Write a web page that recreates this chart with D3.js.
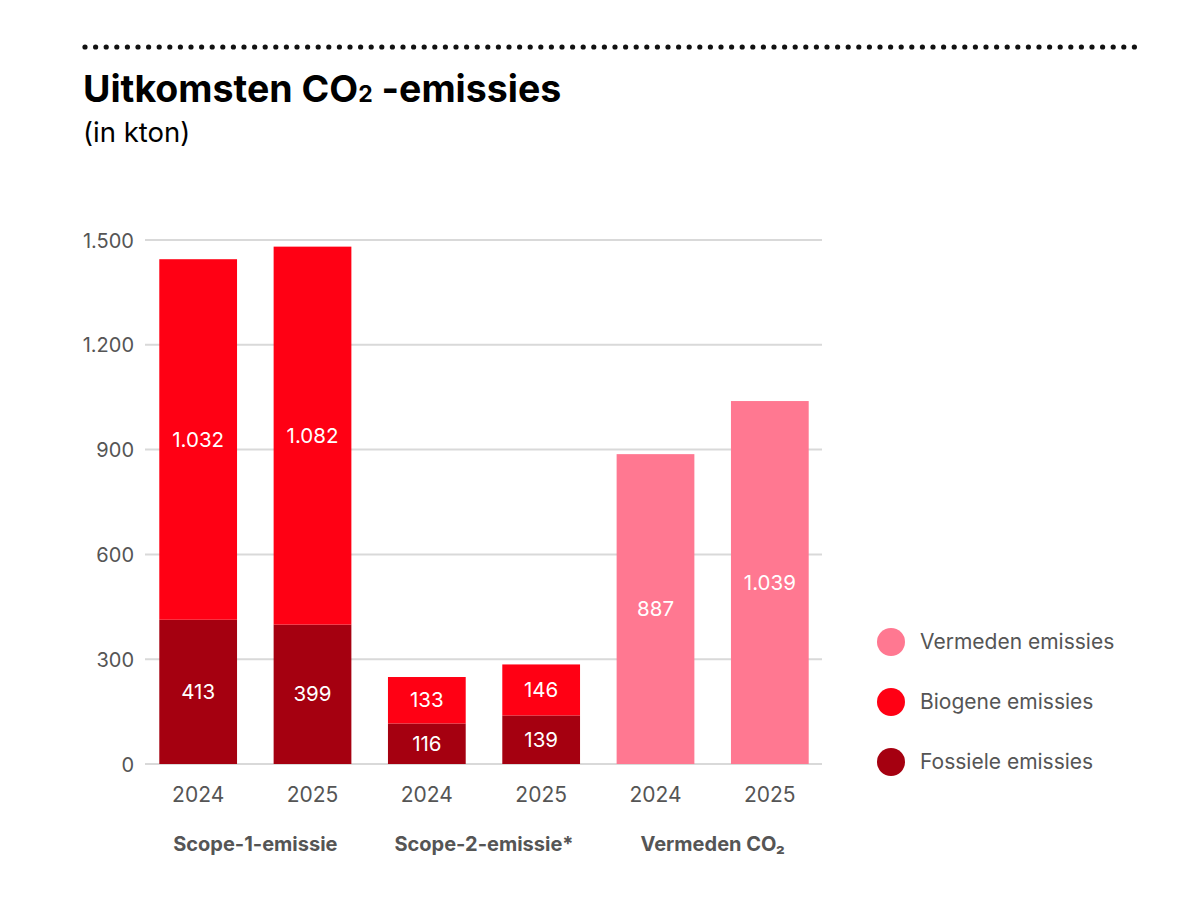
<!DOCTYPE html>
<html>
<head>
<meta charset="utf-8">
<script src="https://cdn.jsdelivr.net/npm/d3@7"></script>
<style>
  body { margin: 0; background: #fff; }
  text { font-family: Inter, "Noto Sans", sans-serif; }
</style>
</head>
<body>
<div id="chart"></div>
<script>
// data
var years = ["2024", "2025", "2024", "2025", "2024", "2025"];
var groups = ["Scope-1-emissie", "Scope-2-emissie*", "Vermeden CO₂"];
var fossiel = [413, 399, 116, 139, 0, 0];
var biogeen = [1032, 1082, 133, 146, 0, 0];
var vermeden = [0, 0, 0, 0, 887, 1039];
var yTicks = [0, 300, 600, 900, 1200, 1500];
var legendLabels = ["Vermeden emissies", "Biogene emissies", "Fossiele emissies"];
var colors = ["#FF7891", "#FF0014", "#A50010"];

var w = 1200, h = 900;

var svg = d3.select("#chart").append("svg")
  .attr("width", w)
  .attr("height", h);

// dotted rule on top
var dots = d3.range(85, 1140, 10.6);
svg.selectAll("circle.dot")
  .data(dots)
  .enter()
  .append("circle")
  .attr("class", "dot")
  .attr("cx", function(d) { return d; })
  .attr("cy", 47)
  .attr("r", 2.6)
  .attr("fill", "#111");

// title
var title = svg.append("text")
  .attr("x", 83)
  .attr("y", 102)
  .attr("font-size", "37.5px")
  .attr("font-weight", 700)
  .attr("fill", "#000");
title.append("tspan").text("Uitkomsten CO");
title.append("tspan").attr("font-size", "23px").text("2");
title.append("tspan").text(" -emissies");

svg.append("text")
  .attr("x", 83)
  .attr("y", 142)
  .attr("font-size", "27.5px")
  .attr("fill", "#000")
  .text("(in kton)");

// scales
var x = d3.scaleBand()
  .domain(d3.range(years.length))
  .range([141, 827])
  .paddingInner(0.32)
  .paddingOuter(0.16);

var y = d3.scaleLinear()
  .domain([0, 1500])
  .range([764, 240]);

// gridlines
svg.selectAll("line.grid")
  .data(yTicks)
  .enter()
  .append("line")
  .attr("x1", 145)
  .attr("x2", 822)
  .attr("y1", function(d) { return y(d); })
  .attr("y2", function(d) { return y(d); })
  .attr("stroke", "#d9d9d9")
  .attr("stroke-width", 2);

// y axis labels
var yAxis = d3.axisLeft(y)
  .tickValues(yTicks)
  .tickSize(0)
  .tickPadding(0)
  .tickFormat(function(d) { return d3.format(",")(d).replace(/,/g, "."); });

svg.append("g")
  .attr("transform", "translate(134,0)")
  .call(yAxis)
  .call(function(g) { g.select(".domain").remove(); })
  .selectAll("text")
  .attr("font-size", "20px")
  .attr("fill", "#555")
  .attr("dy", "0.35em");

// stacked segments
var segs = [];
years.forEach(function(yr, i) {
  var base = 0;
  [[fossiel[i], colors[2]], [biogeen[i], colors[1]], [vermeden[i], colors[0]]].forEach(function(s) {
    if (s[0] > 0) {
      segs.push({ i: i, y0: base, y1: base + s[0], v: s[0], c: s[1] });
      base += s[0];
    }
  });
});

svg.selectAll("rect.seg")
  .data(segs)
  .enter()
  .append("rect")
  .attr("class", "seg")
  .attr("x", function(d) { return x(d.i); })
  .attr("width", x.bandwidth())
  .attr("y", function(d) { return y(d.y1); })
  .attr("height", function(d) { return y(d.y0) - y(d.y1); })
  .attr("fill", function(d) { return d.c; });

// value labels
var fmt = function(v) { return d3.format(",")(v).replace(/,/g, "."); };
svg.selectAll("text.val")
  .data(segs)
  .enter()
  .append("text")
  .attr("class", "val")
  .attr("x", function(d) { return x(d.i) + x.bandwidth() / 2; })
  .attr("y", function(d) { return (y(d.y0) + y(d.y1)) / 2; })
  .attr("dy", "0.35em")
  .attr("text-anchor", "middle")
  .attr("font-size", "20.5px")
  .attr("fill", "#fff")
  .text(function(d) { return fmt(d.v); });

// year labels
svg.selectAll("text.year")
  .data(years)
  .enter()
  .append("text")
  .attr("class", "year")
  .attr("x", function(d, i) { return x(i) + x.bandwidth() / 2; })
  .attr("y", 802)
  .attr("text-anchor", "middle")
  .attr("font-size", "21px")
  .attr("fill", "#555")
  .text(function(d) { return d; });

// group labels
svg.selectAll("text.group")
  .data(groups)
  .enter()
  .append("text")
  .attr("class", "group")
  .attr("x", function(d, i) { return (x(i * 2) + x(i * 2 + 1) + x.bandwidth()) / 2; })
  .attr("y", 851)
  .attr("text-anchor", "middle")
  .attr("font-size", "20px")
  .attr("font-weight", 700)
  .attr("fill", "#555")
  .text(function(d) { return d; });

// legend
var legend = svg.selectAll("g.legend")
  .data(legendLabels)
  .enter()
  .append("g")
  .attr("class", "legend")
  .attr("transform", function(d, i) { return "translate(891," + (642 + i * 60) + ")"; });

legend.append("circle")
  .attr("r", 14)
  .attr("fill", function(d, i) { return colors[i]; });

legend.append("text")
  .attr("x", 29)
  .attr("dy", "0.35em")
  .attr("font-size", "21px")
  .attr("fill", "#555")
  .text(function(d) { return d; });
</script>
</body>
</html>
